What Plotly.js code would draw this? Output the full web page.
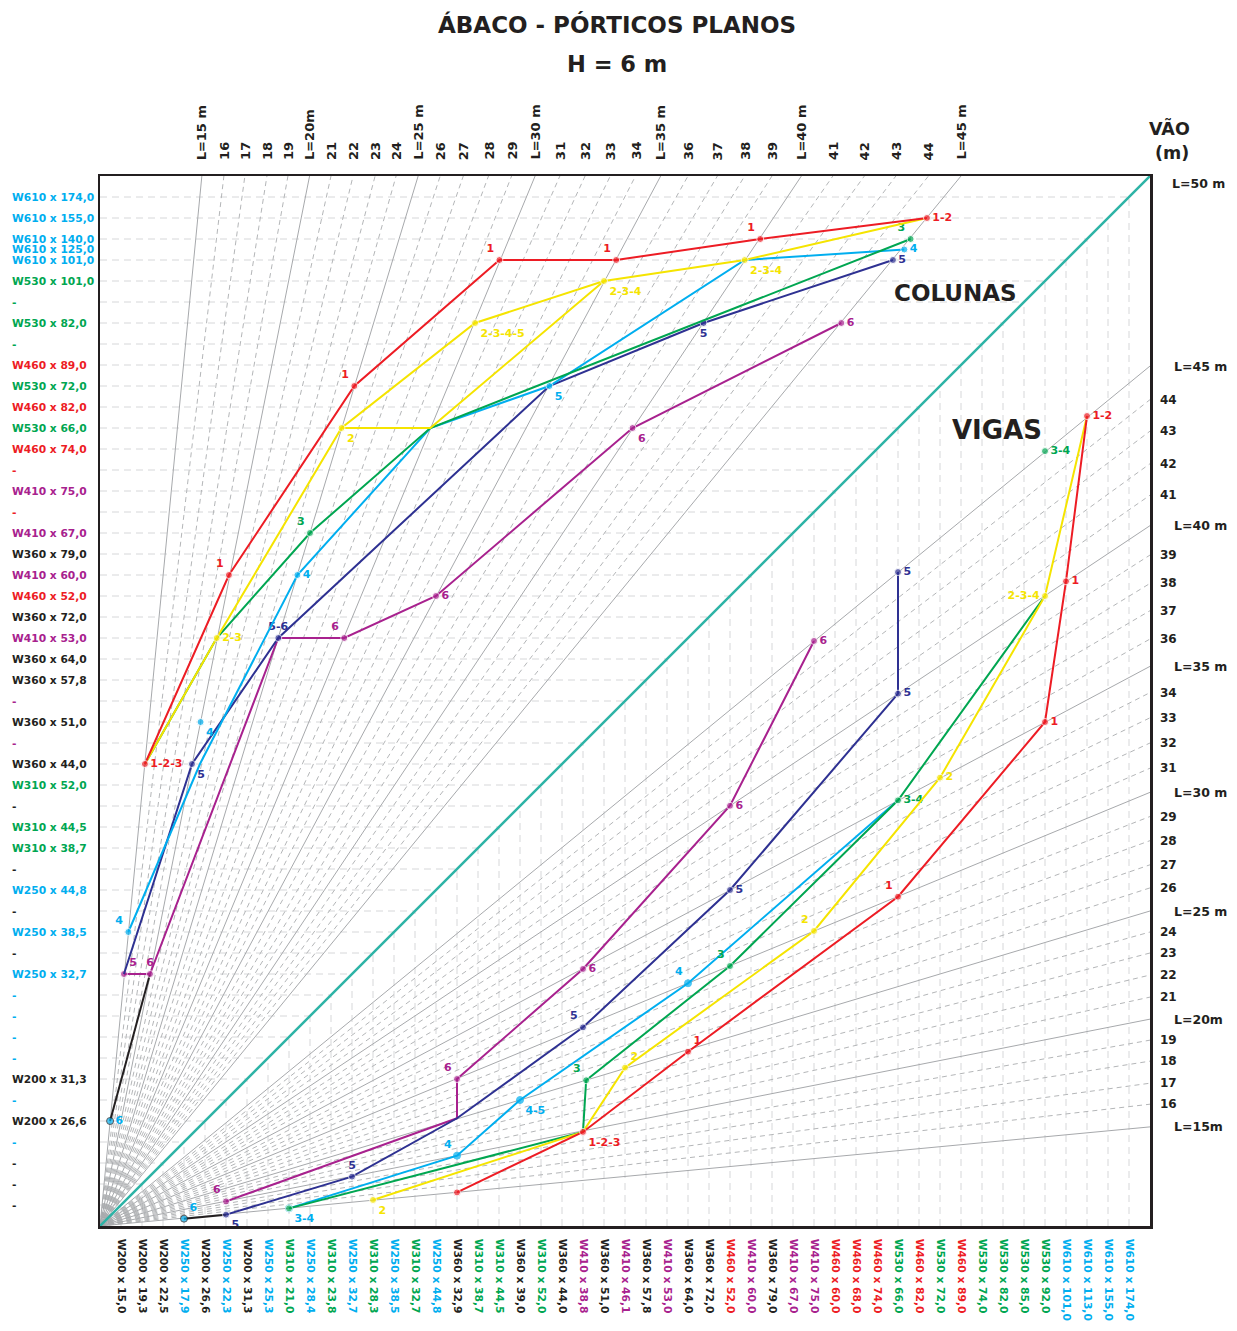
<!DOCTYPE html>
<html><head><meta charset="utf-8">
<script src="https://cdn.plot.ly/plotly-3.0.1.min.js"></script>
<style>body{margin:0;background:#fff}</style>
</head><body><div id="chart" style="width:1237px;height:1331px"></div>
<script>
// ---------------- DATA ----------------
// Span fan lines (m) -> where each line meets the top edge (columns) and right edge (beams)
const spanValues = [15,16,17,18,19,20,21,22,23,24,25,26,27,28,29,30,31,32,33,34,35,36,37,38,39,40,41,42,43,44,45];
const spanTopLabels = ['L=15 m','16','17','18','19','L=20m','21','22','23','24','L=25 m','26','27','28','29','L=30 m','31','32','33','34','L=35 m','36','37','38','39','L=40 m','41','42','43','44','L=45 m'];
const spanTopX = [4.85,5.9,6.9,7.95,8.95,9.98,11.0,12.05,13.1,14.1,15.15,16.2,17.3,18.5,19.6,20.72,21.9,23.1,24.3,25.5,26.7,28.0,29.4,30.7,32.0,33.4,34.9,36.4,37.9,39.45,41.0];
const spanRightLabels = ['L=15m','16','17','18','19','L=20m','21','22','23','24','L=25 m','26','27','28','29','L=30 m','31','32','33','34','L=35 m','36','37','38','39','L=40 m','41','42','43','44','L=45 m'];
const spanRightY = [4.72,5.8,6.8,7.85,8.85,9.85,10.9,11.95,13.0,14.0,15.0,16.1,17.2,18.35,19.5,20.65,21.8,23.0,24.2,25.4,26.65,27.95,29.3,30.6,31.95,33.35,34.8,36.3,37.85,39.35,40.95];

// Column profiles (left axis, rows)
const colProfileY = [49,48,47,46.5,46,45,44,43,42,41,40,39,38,37,36,35,34,33,32,31,30,29,28,27,26,25,24,23,22,21,20,19,18,17,16,15,14,13,12,11,10,9,8,7,6,5,4,3,2,1];
const colProfileText = ['W610 x 174,0','W610 x 155,0','W610 x 140,0','W610 x 125,0','W610 x 101,0','W530 x 101,0','-','W530 x 82,0','-','W460 x 89,0','W530 x 72,0','W460 x 82,0','W530 x 66,0','W460 x 74,0','-','W410 x 75,0','-','W410 x 67,0','W360 x 79,0','W410 x 60,0','W460 x 52,0','W360 x 72,0','W410 x 53,0','W360 x 64,0','W360 x 57,8','-','W360 x 51,0','-','W360 x 44,0','W310 x 52,0','-','W310 x 44,5','W310 x 38,7','-','W250 x 44,8','-','W250 x 38,5','-','W250 x 32,7','-','-','-','-','W200 x 31,3','-','W200 x 26,6','-','-','-','-'];
const colProfileColor = ['c','c','c','c','c','g','g','g','g','r','g','r','g','r','r','m','r','m','k','m','r','k','m','k','k','m','k','m','k','g','k','g','g','k','c','k','c','k','c','c','c','c','c','k','c','k','c','k','k','k'];

// Beam profiles (bottom axis, columns)
const beamProfileX = [1,2,3,4,5,6,7,8,9,10,11,12,13,14,15,16,17,18,19,20,21,22,23,24,25,26,27,28,29,30,31,32,33,34,35,36,37,38,39,40,41,42,43,44,45,46,47,48,49];
const beamProfileText = ['W200 x 15,0','W200 x 19,3','W200 x 22,5','W250 x 17,9','W200 x 26,6','W250 x 22,3','W200 x 31,3','W250 x 25,3','W310 x 21,0','W250 x 28,4','W310 x 23,8','W250 x 32,7','W310 x 28,3','W250 x 38,5','W310 x 32,7','W250 x 44,8','W360 x 32,9','W310 x 38,7','W310 x 44,5','W360 x 39,0','W310 x 52,0','W360 x 44,0','W410 x 38,8','W360 x 51,0','W410 x 46,1','W360 x 57,8','W410 x 53,0','W360 x 64,0','W360 x 72,0','W460 x 52,0','W410 x 60,0','W360 x 79,0','W410 x 67,0','W410 x 75,0','W460 x 60,0','W460 x 68,0','W460 x 74,0','W530 x 66,0','W460 x 82,0','W530 x 72,0','W460 x 89,0','W530 x 74,0','W530 x 82,0','W530 x 85,0','W530 x 92,0','W610 x 101,0','W610 x 113,0','W610 x 155,0','W610 x 174,0'];
const beamProfileColor = ['k','k','k','c','k','c','k','c','g','c','g','c','g','c','g','c','k','g','g','k','g','k','m','k','m','k','m','k','k','r','m','k','m','m','r','r','r','g','r','g','r','g','g','g','g','c','c','c','c'];

const gridRows = [1,2,3,4,5,6,7,8,9,10,11,12,13,14,15,16,17,18,19,20,21,22,23,24,25,26,27,28,29,30,31,32,33,34,35,36,37,38,39,40,41,42,43,44,45,46,47,48,49];

// ---- COLUNAS (upper triangle) ----
const colRedX = [2.14,6.14,12.11,19.02,24.58,31.44,39.38];
const colRedY = [22,31,40,46,46,47,48];
const colRedLbl = ['1-2-3','1','1','1','1','1','1-2'];
const colRedPos = ['middle right','top left','top left','top left','top left','top left','middle right'];

const colYelX = [2.14,5.56,11.5,17.86,24.0,30.7,39.38];
const colYelY = [22,28,38,43,45,46,48];
const colYelLbl = ['','2-3','2','2-3-4-5','2-3-4','2-3-4',''];
const colYelPos = ['middle right','middle right','bottom right','bottom right','bottom right','bottom right','middle right'];
const colYel2X = [11.5,15.73,24.0];
const colYel2Y = [38,38,45];

const colGrnX = [2.14,5.56,10.0,15.73,38.6];
const colGrnY = [22,28,33,38,47];
const colGrnLbl = ['','','3','','3'];
const colGrnPos = ['middle right','middle right','top left','middle right','top left'];

const colCynX = [1.35,4.76,9.4,15.73,21.4,30.7,38.3];
const colCynY = [14,22,31,38,40,46,46.5];
const colCynLbl = ['4','','4','','5','','4'];
const colCynPos = ['top left','middle right','middle right','middle right','bottom right','middle right','middle right'];
const colCynLoneX = [4.79];
const colCynLoneY = [24];
const colCynLoneLbl = ['4'];

const colNavX = [1.14,4.38,8.49,21.4,28.74,37.76];
const colNavY = [12,22,28,40,43,46];
const colNavLbl = ['','5','5-6','','5','5'];
const colNavPos = ['middle right','bottom right','top center','middle right','bottom center','middle right'];

const colMagX = [1.14,2.38,8.49,11.63,16.0,25.36,35.3];
const colMagY = [12,12,28,28,30,38,43];
const colMagLbl = ['5','6','','6','6','6','6'];
const colMagPos = ['top right','top center','middle right','top left','middle right','bottom right','middle right'];

const colBlkX = [0.48,2.38];
const colBlkY = [5,12];
const colBlkLbl = ['6',''];

// ---- VIGAS (lower triangle) ----
const bmRedX = [17,23,28,38,45,46,47];
const bmRedY = [1.6,4.48,8.3,15.68,24.0,30.7,38.57];
const bmRedLbl = [' ','1-2-3','1','1','1','1','1-2'];
const bmRedPos = ['middle right','bottom right','top right','top left','middle right','middle right','middle right'];

const bmYelX = [13,23,25,34,40,45,47];
const bmYelY = [1.24,4.48,7.54,14.05,21.35,30.0,38.57];
const bmYelLbl = ['2','','2','2','2','2-3-4',''];
const bmYelPos = ['bottom right','middle right','top right','top left','middle right','middle left','middle right'];

const bmGrnX = [9,23,23.15,30,38,45];
const bmGrnY = [0.84,4.48,6.94,12.38,20.27,30.0];
const bmGrnLbl = [' ','','3','3','3-4',''];
const bmGrnPos = ['bottom right','middle right','top left','top left','middle right','middle right'];
const bmGrnLoneX = [45];
const bmGrnLoneY = [36.9];
const bmGrnLoneLbl = ['3-4'];

const bmCynX = [9,17,20,28,38];
const bmCynY = [0.84,3.35,6.0,11.56,20.27];
const bmCynLbl = ['3-4','4','4-5','4',''];
const bmCynPos = ['bottom right','top left','bottom right','top left','middle right'];

const bmNavX = [6,12,17,23,30,38,38];
const bmNavY = [0.54,2.35,5.13,9.46,16.0,25.35,31.14];
const bmNavLbl = ['5','5','','5','5','5','5'];
const bmNavPos = ['bottom right','top center','middle right','top left','middle right','middle right','middle right'];

const bmMagX = [6,17,17,23,30,34];
const bmMagY = [1.17,5.13,7.0,12.24,20.01,27.86];
const bmMagLbl = ['6','','6','6','6','6'];
const bmMagPos = ['top left','middle right','top left','middle right','middle right','middle right'];

const bmBlkX = [4,6];
const bmBlkY = [0.35,0.54];
const bmBlkLbl = ['6',''];

// ---------------- STYLE ----------------
const FONT = 'DejaVu Sans, Verdana, sans-serif';
const COL = {r:'#ED1C24', y:'#F5E400', g:'#00A651', c:'#00AEEF', n:'#2E3192', m:'#A8218E', k:'#231F20'};
const TEAL = '#2DB3A6';
const L = 100, T = 176, PW = 1050, PH = 1050;
const px2paperX = p => (p - L) / PW;
const px2paperY = p => (T + PH - p) / PH;

const traces = [];

// grid rows (upper triangle) and grid columns (lower triangle)
(function(){
  const hx=[], hy=[], vx=[], vy=[];
  gridRows.forEach(k => { hx.push(0,k,null); hy.push(k,k,null); vx.push(k,k,null); vy.push(0,k,null); });
  traces.push({x:hx,y:hy,mode:'lines',line:{color:'#D6D7D9',width:1,dash:'7px,5px'},hoverinfo:'skip',showlegend:false});
  traces.push({x:vx,y:vy,mode:'lines',line:{color:'#D6D7D9',width:1,dash:'7px,5px'},hoverinfo:'skip',showlegend:false});
})();

// fan lines
(function(){
  const sx=[], sy=[], dx=[], dy=[];
  spanValues.forEach((s,i) => {
    const solid = s % 5 === 0;
    const ax = solid ? sx : dx, ay = solid ? sy : dy;
    ax.push(0, spanTopX[i], null); ay.push(0, 50, null);
    ax.push(0, 50, null); ay.push(0, spanRightY[i], null);
  });
  traces.push({x:dx,y:dy,mode:'lines',line:{color:'#B4B6B8',width:1,dash:'5px,4px'},hoverinfo:'skip',showlegend:false});
  traces.push({x:sx,y:sy,mode:'lines',line:{color:'#A7A9AC',width:1},hoverinfo:'skip',showlegend:false});
})();

// diagonal L=50 m
traces.push({x:[0,50],y:[0,50],mode:'lines',line:{color:TEAL,width:2.5},hoverinfo:'skip',showlegend:false});

function series(x, y, lbl, pos, color, opts) {
  opts = opts || {};
  const sizes = lbl.map(t => t === '' ? 0 : 7);
  const mcol = opts.markerColor || color;
  traces.push({
    x:x, y:y, mode: opts.noLine ? 'markers+text' : 'lines+markers+text',
    line:{color: opts.lineColor || color, width:2},
    marker:{size:sizes, color:mcol},
    text: lbl.map(t => t.trim()), textposition: pos || 'middle right',
    textfont:{family:FONT, size:11, color: opts.textColor || color, weight:'bold'},
    cliponaxis:false, hoverinfo:'skip', showlegend:false
  });
}

// columns
series(colBlkX, colBlkY, colBlkLbl, ['middle right','middle right'], COL.k, {markerColor:[COL.c,COL.k], textColor:COL.c});
series(colMagX, colMagY, colMagLbl, colMagPos, COL.m);
series(colNavX, colNavY, colNavLbl, colNavPos, COL.n);
series(colCynX, colCynY, colCynLbl, colCynPos, COL.c);
series(colCynLoneX, colCynLoneY, colCynLoneLbl, ['bottom right'], COL.c, {noLine:true});
series(colGrnX, colGrnY, colGrnLbl, colGrnPos, COL.g);
series(colYel2X, colYel2Y, ['','',''], 'middle right', COL.y);
series(colYelX, colYelY, colYelLbl, colYelPos, COL.y);
series(colRedX, colRedY, colRedLbl, colRedPos, COL.r);

// beams
series(bmBlkX, bmBlkY, bmBlkLbl, ['top right','middle right'], COL.k, {markerColor:[COL.c,COL.k], textColor:COL.c});
series(bmMagX, bmMagY, bmMagLbl, bmMagPos, COL.m);
series(bmNavX, bmNavY, bmNavLbl, bmNavPos, COL.n);
series(bmCynX, bmCynY, bmCynLbl.map((t,i)=> i===0 ? t : t), bmCynPos, COL.c, {markerColor:bmCynLbl.map((t,i)=> i===0 ? 'rgba(0,0,0,0)' : COL.c)});
series(bmGrnX, bmGrnY, bmGrnLbl, bmGrnPos, COL.g);
series(bmGrnLoneX, bmGrnLoneY, bmGrnLoneLbl, ['middle right'], COL.g, {noLine:true});
series(bmYelX, bmYelY, bmYelLbl, bmYelPos, COL.y);
series(bmRedX, bmRedY, bmRedLbl, bmRedPos, COL.r);

// ---------------- ANNOTATIONS ----------------
const ann = [];
const dark = COL.k;
ann.push({xref:'paper',yref:'paper',x:px2paperX(617),y:px2paperY(25),text:'ÁBACO - PÓRTICOS PLANOS',showarrow:false,xanchor:'center',yanchor:'middle',font:{family:FONT,size:23,color:dark,weight:'bold'}});
ann.push({xref:'paper',yref:'paper',x:px2paperX(617),y:px2paperY(64),text:'H = 6 m',showarrow:false,xanchor:'center',yanchor:'middle',font:{family:FONT,size:22.5,color:dark,weight:'bold'}});
ann.push({xref:'paper',yref:'paper',x:px2paperX(1169),y:px2paperY(128),text:'VÃO',showarrow:false,xanchor:'center',yanchor:'middle',font:{family:FONT,size:17.5,color:dark,weight:'bold'}});
ann.push({xref:'paper',yref:'paper',x:px2paperX(1172),y:px2paperY(153),text:'(m)',showarrow:false,xanchor:'center',yanchor:'middle',font:{family:FONT,size:17.5,color:dark,weight:'bold'}});
ann.push({xref:'paper',yref:'paper',x:px2paperX(955),y:px2paperY(293),text:'COLUNAS',showarrow:false,xanchor:'center',yanchor:'middle',font:{family:FONT,size:23,color:dark,weight:'bold'}});
ann.push({xref:'paper',yref:'paper',x:px2paperX(997),y:px2paperY(430),text:'VIGAS',showarrow:false,xanchor:'center',yanchor:'middle',font:{family:FONT,size:26,color:dark,weight:'bold'}});
ann.push({xref:'paper',yref:'paper',x:1,y:px2paperY(183),text:'L=50 m',showarrow:false,xanchor:'left',yanchor:'middle',xshift:20,font:{family:FONT,size:12.5,color:dark,weight:'bold'}});

// top span labels
spanTopLabels.forEach((t,i) => {
  ann.push({xref:'x',yref:'paper',x:spanTopX[i],y:1,yshift:14,text:t,textangle:-90,showarrow:false,xanchor:'center',yanchor:'bottom',font:{family:FONT,size:13,color:dark,weight:'bold'}});
});
// right span labels
spanRightLabels.forEach((t,i) => {
  const isL = t.indexOf('L=') === 0;
  ann.push({xref:'paper',yref:'y',x:1,y:spanRightY[i],xshift:isL?22:8,text:t,showarrow:false,xanchor:'left',yanchor:'middle',font:{family:FONT,size:isL?12.5:12,color:dark,weight:'bold'}});
});
// left column-profile labels
colProfileText.forEach((t,i) => {
  ann.push({xref:'paper',yref:'y',x:px2paperX(10),y:colProfileY[i],text:t,showarrow:false,xanchor:'left',yanchor:'middle',font:{family:FONT,size:10.7,color:COL[colProfileColor[i]],weight:'bold'}});
});

const tickText = beamProfileText.map((t,i) => '<span style="color:'+COL[beamProfileColor[i]]+'">'+t+'</span>');

const layout = {
  width:1237, height:1331,
  margin:{l:L, r:1237-L-PW, t:T, b:1331-T-PH},
  paper_bgcolor:'#fff', plot_bgcolor:'#fff',
  showlegend:false,
  xaxis:{range:[0,50],showgrid:false,zeroline:false,showline:true,mirror:true,linecolor:'#231F20',linewidth:2.5,
         ticks:'',tickmode:'array',tickvals:beamProfileX,ticktext:tickText,tickangle:90,ticklabelstandoff:8,
         tickfont:{family:FONT,size:10.7,weight:'bold'}},
  yaxis:{range:[0,50],showgrid:false,zeroline:false,showline:true,mirror:true,linecolor:'#231F20',linewidth:2.5,
         showticklabels:false,ticks:''},
  annotations:ann
};

Plotly.newPlot('chart', traces, layout, {staticPlot:true, displayModeBar:false});
</script></body></html>
